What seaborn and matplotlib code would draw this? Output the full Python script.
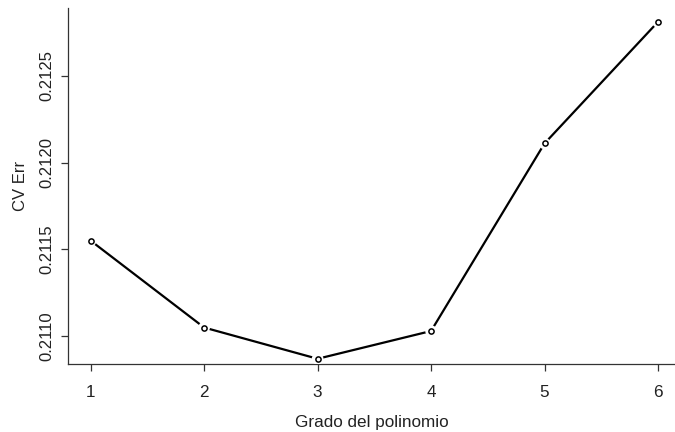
import matplotlib
matplotlib.use("Agg")
import matplotlib.pyplot as plt
import seaborn as sns
import pandas as pd

grado = [1, 2, 3, 4, 5, 6]
cv_err = [0.21155, 0.21105, 0.21087, 0.21103, 0.21211, 0.21281]
yticks = [0.2110, 0.2115, 0.2120, 0.2125]
yticklabels = ["0.2110", "0.2115", "0.2120", "0.2125"]
xticks = [1, 2, 3, 4, 5, 6]

sns.set_style("ticks")
plt.rcParams['font.family'] = ['Liberation Sans', 'DejaVu Sans']

df = pd.DataFrame({"grado": grado, "cv": cv_err})

fig = plt.figure(figsize=(6.75, 4.32), dpi=100)
ax = fig.add_axes([68/675, 1-364/432, 1-68/675, (364-8)/432])

sns.lineplot(data=df, x="grado", y="cv", ax=ax, color="black", linewidth=1.6, zorder=2)
sns.scatterplot(data=df, x="grado", y="cv", ax=ax, s=70, color="white", edgecolor="none",
                linewidth=0, zorder=3)
sns.scatterplot(data=df, x="grado", y="cv", ax=ax, s=14, facecolor="white", edgecolor="black",
                linewidth=1.1, zorder=4)

ax.set_xlim(0.8, 6.15)
ax.set_ylim(0.21084, 0.21289)
ax.set_xticks(xticks)
ax.set_xticklabels([str(v) for v in xticks])
ax.set_yticks(yticks)
ax.set_yticklabels(yticklabels, rotation=90, va="center")
ax.set_xlabel("Grado del polinomio", fontsize=12.3, labelpad=11, color="#222222")
ax.set_ylabel("CV Err", fontsize=12, labelpad=8, color="#222222")
ax.tick_params(axis="x", labelsize=12.3, length=5, width=0.9, pad=10, colors="#333333",
               labelcolor="#222222")
ax.tick_params(axis="y", labelsize=12, length=5, width=0.9, pad=5, colors="#333333",
               labelcolor="#222222")
for side in ["top", "right"]:
    ax.spines[side].set_visible(False)
for side in ["left", "bottom"]:
    ax.spines[side].set_color("#333333")
    ax.spines[side].set_linewidth(0.9)

fig.savefig("out.png", dpi=100)
